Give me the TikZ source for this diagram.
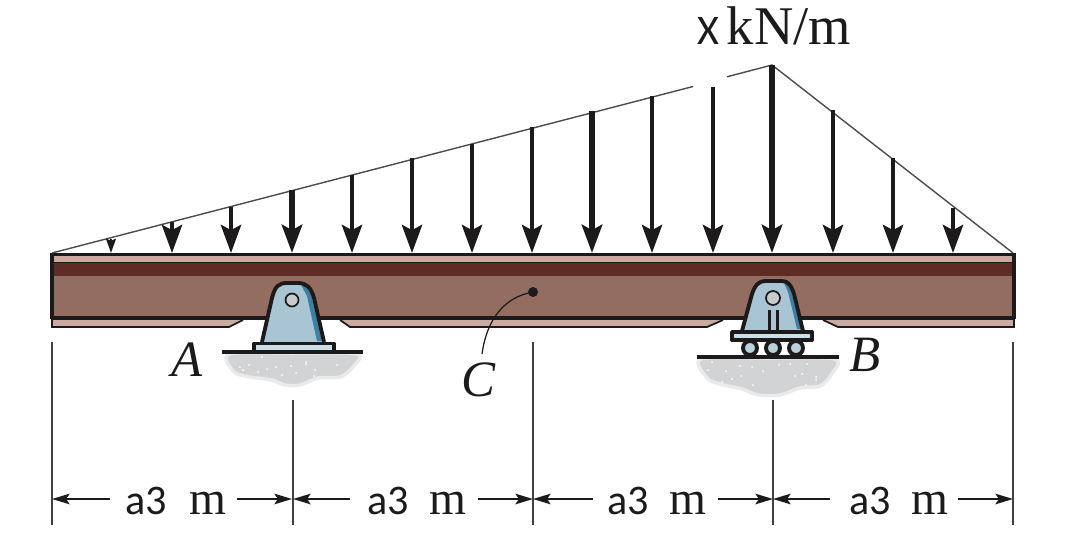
\documentclass[tikz,border=0pt]{standalone}
\usepackage{fontspec}
\setmainfont{Liberation Serif}
\newfontfamily\labelsans{Carlito}
\usetikzlibrary{arrows.meta}
\definecolor{flangelight}{HTML}{C9AB9F}
\definecolor{banddark}{HTML}{5F2C25}
\definecolor{webbrown}{HTML}{936E60}
\definecolor{steelblue}{HTML}{A9C5D3}
\definecolor{steeledge}{HTML}{3E7FA3}
\definecolor{platepale}{HTML}{CBDFE7}
\definecolor{groundgray}{HTML}{D1D3D5}
\definecolor{groundpale}{HTML}{E9EAEB}
\definecolor{pingray}{HTML}{C9CBCC}
\definecolor{inkblack}{HTML}{1C1A1B}
\tikzset{
    outline/.style={draw=inkblack, line width=2.2pt, line join=round},
    loadsmall/.style={draw=inkblack, line width=1.5pt, -{Stealth[length=8pt, width=5.5pt, inset=1pt]}},
    loadthin/.style={draw=inkblack, line width=2.4pt, -{Stealth[length=16pt, width=11.5pt, inset=3pt]}},
    loadthick/.style={draw=inkblack, line width=3.2pt, -{Stealth[length=16pt, width=11.5pt, inset=3pt]}},
    dimline/.style={draw=inkblack, line width=1.1pt, -{Stealth[length=10pt, width=6pt, inset=2pt]}},
    extline/.style={draw=black!75, line width=0.7pt},
    italiclabel/.style={font=\fontsize{29}{29}\selectfont\itshape, text=inkblack, inner sep=0pt},
    lengthlabel/.style={font=\fontsize{24}{24}\selectfont\labelsans, text=inkblack, anchor=base, inner sep=0pt},
    unitlabel/.style={font=\fontsize{27}{27}\selectfont, text=inkblack, anchor=base, inner sep=0pt},
    groundfill/.style={fill=groundgray, draw=groundpale, line width=2pt},
}
\begin{document}
\begin{tikzpicture}[x=0.02cm, y=-0.02cm]
    \useasboundingbox (0,0) rectangle (1067,537);
    % beam
    \fill[flangelight] (52,255) rectangle (1014,326);
    \fill[banddark] (52,263) rectangle (1014,276);
    \fill[webbrown] (52,276) rectangle (1014,317);
    \draw[inkblack, line width=2pt] (50.5,254.5) -- (1015.5,254.5);
    \draw[inkblack, line width=1.1pt] (52,262.5) -- (1014,262.5);
    \draw[inkblack, line width=2pt] (52,318) -- (1014,318);
    \draw[inkblack, line width=2.2pt] (52,253) -- (52,319);
    \draw[inkblack, line width=2.2pt] (1014,253) -- (1014,319);
    \fill[white] (229,328) -- (243,320) -- (340,320) -- (350,328) -- cycle;
    \fill[white] (707,328) -- (723,320) -- (823,320) -- (838,328) -- cycle;
    \draw[inkblack, line width=1pt] (52,318) -- (52,327) -- (229,327) -- (243,320);
    \draw[inkblack, line width=1pt] (340,320) -- (350,327) -- (707,327) -- (723,320);
    \draw[inkblack, line width=1pt] (823,320) -- (838,327) -- (1014,327) -- (1014,318);
    % ground
    \draw[groundfill] plot[smooth cycle, tension=0.5] coordinates {(229,354) (234,372) (250,377) (272,380) (285,385) (300,385) (318,378) (340,377) (352,368) (357,354) (292,353)};
    \draw[groundfill] plot[smooth cycle, tension=0.5] coordinates {(701,359) (707,378) (720,384) (742,389) (758,395) (780,395) (800,388) (820,386) (831,375) (835,359) (768,358)};
    \foreach \sx/\sy in {240/367, 243/370, 249/365, 267/369, 276/367, 282/375, 291/366, 296/373, 306/364, 306/362, 337/365, 314/376, 262/357, 258/372, 315/370} {
        \fill[white] (\sx,\sy) circle (1);
    }
    \foreach \sx/\sy in {708/370, 712/362, 726/371, 741/376, 732/379, 740/366, 752/367, 763/371, 779/365, 790/364, 807/364, 795/376, 802/374, 816/377, 816/380, 753/385, 722/382, 806/385} {
        \fill[white] (\sx,\sy) circle (1);
    }
    % support at A
    \fill[steelblue] (262,342) -- (272,298) .. controls (275,286) and (279,283) .. (287,283) -- (298,283) .. controls (306,283) and (311,287) .. (314,298) -- (324,342) -- cycle;
    \fill[steeledge] (301,285) .. controls (308,286) and (310,291) .. (312,298) -- (322,341) -- (317,341) -- (307,296) -- cycle;
    \draw[outline] (262,342) -- (272,298) .. controls (275,286) and (279,283) .. (287,283) -- (298,283) .. controls (306,283) and (311,287) .. (314,298) -- (324,342);
    \draw[inkblack, line width=1pt, fill=pingray] (292,300) circle (6.5);
    \draw[outline, fill=platepale] (254,343.5) rectangle (334,352);
    \draw[inkblack, line width=2.2pt] (222,352) -- (363,352);
    % support at B
    \fill[steelblue] (742,331) -- (752,294) .. controls (755,285) and (759,281) .. (765,281) -- (782,281) .. controls (788,281) and (791,285) .. (794,294) -- (803,331) -- cycle;
    \fill[steeledge] (784,283) .. controls (788,284) and (790,287) .. (792,294) -- (801,329) -- (797,329) -- (788,292) -- cycle;
    \draw[outline] (742,331) -- (752,294) .. controls (755,285) and (759,281) .. (765,281) -- (782,281) .. controls (788,281) and (791,285) .. (794,294) -- (803,331);
    \draw[inkblack, line width=1pt, fill=pingray] (773,298) circle (7);
    \draw[inkblack, line width=1.7pt] (769,310) -- (769,331);
    \draw[inkblack, line width=1.7pt] (777,310) -- (777,331);
    \draw[outline, fill=platepale] (732,332) rectangle (812,340);
    \foreach \rx in {750,773,796} {
        \draw[outline, fill=steelblue!80!white] (\rx,348) circle (7);
    }
    \draw[inkblack, line width=2.4pt] (697,357) -- (839,357);
    % distributed load
    \coordinate (loadstart) at (52,253);
    \coordinate (loadpeak) at (772,65);
    \coordinate (loadend) at (1013,253);
    \draw[black!70, line width=0.8pt] (loadstart) -- (693,86.5);
    \draw[black!70, line width=0.8pt] (727,76.8) -- (loadpeak) -- (loadend);
    \draw[loadsmall] (111,239) -- (111,253);
    \foreach \ax/\ay in {292/190, 592/111, 772/65} {
        \draw[loadthick] (\ax,\ay) -- (\ax,253);
    }
    \foreach \ax/\ay in {172/222, 231/207, 352/175, 412/158, 472/144, 532/127, 652/96, 713/87, 833/110, 893/158, 953/208} {
        \draw[loadthin] (\ax,\ay) -- (\ax,253);
    }
    \node[lengthlabel] (loadname) at (708,45) {X};
    \node[unitlabel, font=\fontsize{31}{31}\selectfont] (loadunit) at (789,45) {kN/m};
    % point C
    \fill[inkblack] (533,292) circle (5) coordinate (pointc);
    \node[italiclabel] (labelc) at (478,380) {C};
    \draw[inkblack, line width=0.7pt] (pointc) .. controls (505,297) and (487,318) .. (482,354);
    \node[italiclabel] (labela) at (187,360) {A};
    \node[italiclabel] (labelb) at (865,355) {B};
    % dimensions
    \foreach \ex/\ey in {52/342, 293/400, 533/342, 773/400, 1013/342} {
        \draw[extline] (\ex,\ey) -- (\ex,525);
    }
    \foreach \dx/\dy/\tx/\mx in {52/110/146/208, 293/350/388/448, 533/593/628/688, 773/830/870/930} {
        \coordinate (dimleft) at (\dx,499);
        \coordinate (dimright) at (\dx+240,499);
        \draw[dimline] (\dy,499) -- (dimleft);
        \draw[dimline] (\dx+185,499) -- (dimright);
        \node[lengthlabel] at (\tx,514) {a3};
        \node[unitlabel] at (\mx,514) {m};
    }
\end{tikzpicture}
\end{document}
